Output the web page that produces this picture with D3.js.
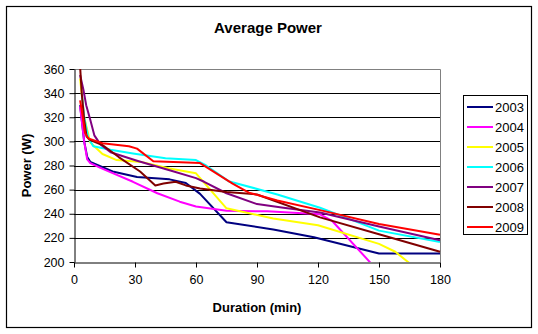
<!DOCTYPE html>
<html>
<head>
<meta charset="utf-8">
<script src="https://cdn.jsdelivr.net/npm/d3@7"></script>
<style>
  body { margin: 0; background: #fff; }
  svg { display: block; font-family: "Liberation Sans", Arial, sans-serif; }
</style>
</head>
<body>
<div id="container"></div>
<script>
// data: [minutes, watts]
const years = ["2003", "2004", "2005", "2006", "2007", "2008", "2009"];
const colors = ["#000080", "#ff00ff", "#ffff00", "#00ffff", "#800080", "#800000", "#ff0000"];

const s2003 = [[3,330],[5,300],[6.5,287],[8,283],[19,275],[31,270.5],[47,268.5],[55,265.5],[62,256.5],[75,233],[98,227],[118,220.5],[150,207],[180,207]];
const s2004 = [[3,329],[5,300],[6.5,285],[8,282],[13,278],[29,266.5],[41,257],[52,250],[60,246],[75,242.5],[95,242],[121,239.5],[127,234],[146,199]];
const s2005 = [[3,352],[5,320],[8,299],[14,289.5],[21,284.5],[33,283],[47,277.5],[60,273.5],[75,244.5],[98,236],[120,230.5],[150,215],[158,208.5],[165,199]];
const s2006 = [[3.8,340],[5,320],[7,303],[9.5,296],[18,293],[29,290],[45,286],[60,284.5],[65,280],[76,267],[100,256],[121,245],[135,236],[150,226],[180,216.5]];
const s2007 = [[3,355],[4.6,343],[6,330],[8,318],[10,305],[13,297.5],[18,291],[31,284],[47,276],[60,269.5],[64,266.5],[75,257],[90,248],[103,245],[121,241],[150,229.5],[180,218]];
const s2008 = [[3,362],[3.8,340],[5,318],[6.2,304],[8,301],[14,297],[22,287],[32.5,275],[40,263.5],[44,265],[50,266.5],[55,263.5],[62,261],[75,258],[90,256],[121,237],[150,223],[180,208.5]];
const s2009 = [[3,334],[3.8,326],[5.4,307],[7,302.5],[14,298.5],[27,296],[31,294],[39,283.5],[62,282],[78,265],[86,257.5],[100,251],[121,243],[150,231.5],[180,222.5]];
const series = [s2003, s2004, s2005, s2006, s2007, s2008, s2009];

const xTicks = [0, 30, 60, 90, 120, 150, 180];
const yTicks = [200, 220, 240, 260, 280, 300, 320, 340, 360];

// dimensions
const w = 538;
const h = 334;
const plot = { left: 74, right: 440, top: 69, bottom: 262 };

const xScale = d3.scaleLinear().domain([0, 180]).range([plot.left, plot.right]);
const yScale = d3.scaleLinear().domain([200, 360]).range([plot.bottom, plot.top]);

const svg = d3.select("#container")
              .append("svg")
              .attr("width", w)
              .attr("height", h);

// outer frame
svg.append("rect")
   .attr("x", 6.5).attr("y", 6.5)
   .attr("width", 525).attr("height", 321)
   .attr("fill", "#fff")
   .attr("stroke", "#000")
   .attr("stroke-width", 1.2);

// gridlines
svg.append("g")
   .selectAll("line")
   .data(yTicks.filter(d => d > 200 && d < 360))
   .enter()
   .append("line")
   .attr("x1", plot.left).attr("x2", plot.right)
   .attr("y1", d => Math.round(yScale(d)) + 0.5)
   .attr("y2", d => Math.round(yScale(d)) + 0.5)
   .attr("stroke", "#000")
   .attr("stroke-width", 1);

// plot border top/right (gray)
svg.append("path")
   .attr("d", `M${plot.left},${plot.top + 0.5}H${plot.right + 0.5}V${plot.bottom}`)
   .attr("fill", "none")
   .attr("stroke", "#808080")
   .attr("stroke-width", 1);

// clip for lines
svg.append("clipPath")
   .attr("id", "clip")
   .append("rect")
   .attr("x", plot.left).attr("y", plot.top)
   .attr("width", plot.right - plot.left + 1)
   .attr("height", plot.bottom - plot.top);

const line = d3.line()
               .x(d => xScale(d[0]))
               .y(d => yScale(d[1]));

svg.append("g")
   .attr("clip-path", "url(#clip)")
   .selectAll("path")
   .data(series)
   .enter()
   .append("path")
   .attr("d", line)
   .attr("fill", "none")
   .attr("stroke", (d, i) => colors[i])
   .attr("stroke-width", 2)
   .attr("stroke-linejoin", "round");

// axes
const xAxis = d3.axisBottom(xScale)
                .tickValues(xTicks)
                .tickSize(5)
                .tickPadding(8)
                .tickSizeOuter(0);
const yAxis = d3.axisLeft(yScale)
                .tickValues(yTicks)
                .tickSize(5)
                .tickPadding(5)
                .tickSizeOuter(0);

const gx = svg.append("g")
   .attr("transform", "translate(0," + (plot.bottom + 0.5) + ")")
   .call(xAxis);
const gy = svg.append("g")
   .attr("transform", "translate(" + (plot.left + 0.5) + ",0)")
   .call(yAxis);

[gx, gy].forEach(g => {
  g.selectAll("path, line").attr("stroke", "#000");
  g.selectAll("text")
   .attr("fill", "#000")
   .style("font-size", "12.5px")
   .style("font-family", "Liberation Sans, Arial, sans-serif");
});

// title
svg.append("text")
   .attr("x", 268)
   .attr("y", 33)
   .attr("text-anchor", "middle")
   .style("font-size", "15px")
   .style("font-weight", "bold")
   .text("Average Power");

// axis labels
svg.append("text")
   .attr("transform", "translate(31," + ((plot.top + plot.bottom) / 2) + ")rotate(-90)")
   .attr("text-anchor", "middle")
   .style("font-size", "13px")
   .style("font-weight", "bold")
   .text("Power (W)");

svg.append("text")
   .attr("x", 257)
   .attr("y", 312)
   .attr("text-anchor", "middle")
   .style("font-size", "13px")
   .style("font-weight", "bold")
   .text("Duration (min)");

// legend
svg.append("rect")
   .attr("x", 463.5).attr("y", 95.5)
   .attr("width", 64).attr("height", 139)
   .attr("fill", "#fff")
   .attr("stroke", "#000")
   .attr("stroke-width", 1);

years.forEach(function(yr, i) {
  const ly = 107 + i * 20;
  svg.append("line")
     .attr("x1", 467).attr("x2", 493)
     .attr("y1", ly).attr("y2", ly)
     .attr("stroke", colors[i])
     .attr("stroke-width", 2);
  svg.append("text")
     .attr("x", 495)
     .attr("y", ly + 4.5)
     .style("font-size", "13px")
     .text(yr);
});
</script>
</body>
</html>
